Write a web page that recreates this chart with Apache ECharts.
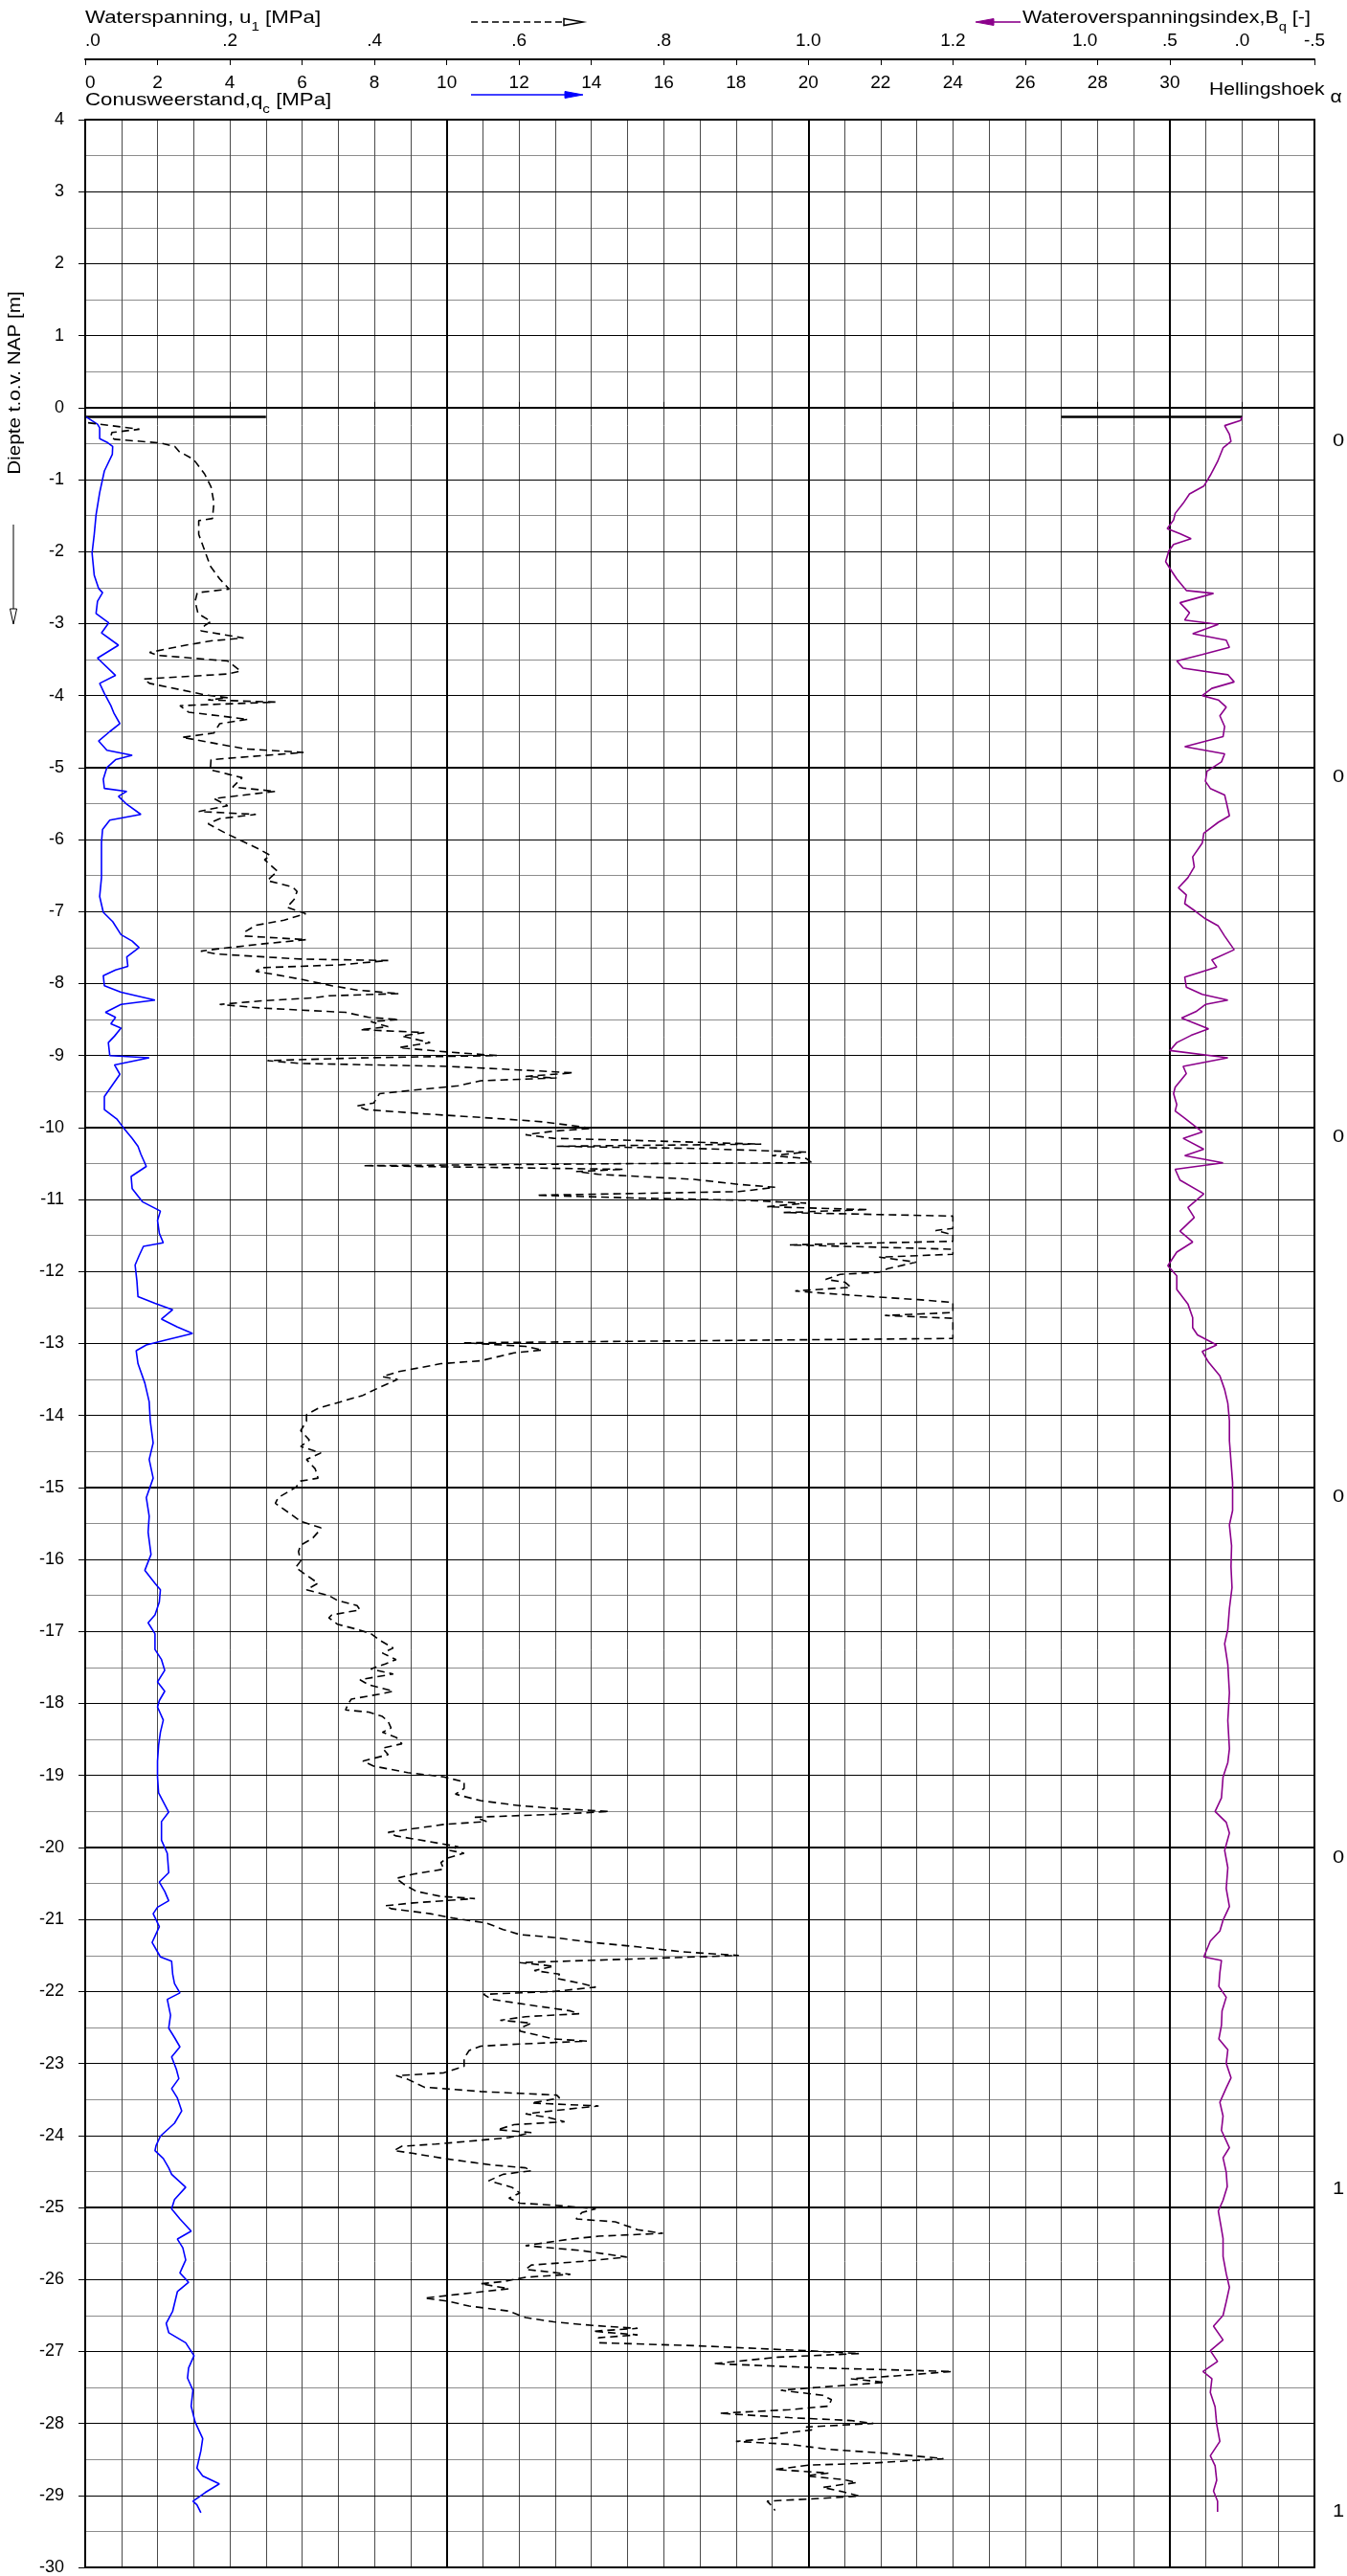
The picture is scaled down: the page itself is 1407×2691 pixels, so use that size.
<!DOCTYPE html>
<html><head><meta charset="utf-8">
<script src="https://cdn.jsdelivr.net/npm/echarts@6/dist/echarts.min.js"></script>
<style>html,body{margin:0;padding:0;background:#fff}#c{width:1407px;height:2691px}</style>
</head><body><div id="c"></div>
<script>
// ---- data: [depth (m NAP), value] ----
const qcProfile = [[-0.13,0.03],[-0.23,0.34],[-0.28,0.40],[-0.43,0.40],[-0.48,0.60],[-0.54,0.76],[-0.65,0.75],[-0.88,0.53],[-1.18,0.40],[-1.49,0.30],[-1.76,0.25],[-2.02,0.19],[-2.33,0.25],[-2.51,0.37],[-2.57,0.48],[-2.69,0.34],[-2.86,0.30],[-2.99,0.65],[-3.13,0.45],[-3.30,0.92],[-3.48,0.34],[-3.72,0.84],[-3.83,0.40],[-3.97,0.53],[-4.14,0.71],[-4.25,0.80],[-4.39,0.96],[-4.50,0.68],[-4.63,0.37],[-4.76,0.60],[-4.83,1.30],[-4.89,0.84],[-5.00,0.60],[-5.16,0.50],[-5.29,0.53],[-5.33,1.15],[-5.40,0.92],[-5.51,1.15],[-5.65,1.54],[-5.73,0.68],[-5.86,0.48],[-6.04,0.45],[-6.26,0.45],[-6.53,0.45],[-6.79,0.40],[-7.01,0.50],[-7.14,0.76],[-7.32,0.99],[-7.41,1.30],[-7.50,1.49],[-7.63,1.15],[-7.76,1.18],[-7.81,0.84],[-7.89,0.50],[-8.03,0.53],[-8.12,0.99],[-8.23,1.93],[-8.29,0.99],[-8.40,0.56],[-8.47,0.84],[-8.56,0.71],[-8.62,0.99],[-8.73,0.81],[-8.82,0.64],[-9.00,0.68],[-9.03,1.77],[-9.13,0.81],[-9.26,0.96],[-9.44,0.71],[-9.57,0.53],[-9.75,0.53],[-9.88,0.87],[-10.01,1.07],[-10.15,1.30],[-10.26,1.46],[-10.37,1.54],[-10.54,1.69],[-10.68,1.27],[-10.85,1.30],[-11.03,1.58],[-11.16,2.08],[-11.29,2.00],[-11.47,2.05],[-11.60,2.16],[-11.65,1.61],[-11.78,1.49],[-11.91,1.38],[-12.13,1.43],[-12.35,1.46],[-12.44,1.93],[-12.53,2.42],[-12.66,2.11],[-12.77,2.55],[-12.86,2.97],[-12.95,2.24],[-13.02,1.69],[-13.10,1.41],[-13.28,1.46],[-13.55,1.65],[-13.81,1.77],[-14.08,1.80],[-14.38,1.88],[-14.61,1.77],[-14.87,1.88],[-15.14,1.69],[-15.40,1.77],[-15.62,1.74],[-15.93,1.82],[-16.15,1.65],[-16.33,1.93],[-16.42,2.08],[-16.59,2.05],[-16.77,1.93],[-16.88,1.74],[-17.03,1.93],[-17.25,1.93],[-17.39,2.11],[-17.54,2.20],[-17.70,2.00],[-17.83,2.20],[-17.96,2.05],[-18.05,2.00],[-18.23,2.16],[-18.40,2.08],[-18.58,2.03],[-18.80,2.00],[-19.02,2.00],[-19.24,2.03],[-19.51,2.31],[-19.64,2.11],[-19.90,2.11],[-20.08,2.27],[-20.35,2.31],[-20.48,2.05],[-20.61,2.20],[-20.74,2.31],[-20.83,2.00],[-20.92,1.88],[-21.10,2.05],[-21.32,1.85],[-21.45,2.00],[-21.52,2.08],[-21.58,2.39],[-21.76,2.42],[-21.89,2.47],[-22.02,2.62],[-22.11,2.27],[-22.33,2.36],[-22.51,2.31],[-22.64,2.47],[-22.77,2.62],[-22.91,2.39],[-23.08,2.52],[-23.21,2.59],[-23.35,2.39],[-23.48,2.55],[-23.66,2.67],[-23.83,2.47],[-24.01,2.08],[-24.14,1.96],[-24.21,1.93],[-24.32,2.16],[-24.45,2.31],[-24.54,2.39],[-24.72,2.78],[-24.89,2.47],[-25.02,2.39],[-25.16,2.62],[-25.33,2.93],[-25.44,2.55],[-25.56,2.70],[-25.73,2.78],[-25.91,2.62],[-26.04,2.86],[-26.17,2.55],[-26.44,2.42],[-26.61,2.24],[-26.74,2.31],[-26.88,2.78],[-27.06,3.01],[-27.23,2.86],[-27.37,2.83],[-27.54,2.98],[-27.76,2.93],[-27.98,3.04],[-28.21,3.25],[-28.38,3.20],[-28.62,3.09],[-28.73,3.25],[-28.84,3.71],[-28.96,3.32],[-29.08,2.98],[-29.13,3.09],[-29.24,3.20]];

const uProfile = [[-0.21,0.004],[-0.30,0.075],[-0.345,0.037],[-0.41,0.035],[-0.44,0.041],[-0.49,0.103],[-0.54,0.124],[-0.61,0.13],[-0.72,0.150],[-0.92,0.165],[-1.10,0.174],[-1.32,0.178],[-1.54,0.176],[-1.57,0.157],[-1.76,0.157],[-1.98,0.165],[-2.20,0.173],[-2.38,0.186],[-2.52,0.199],[-2.57,0.155],[-2.69,0.152],[-2.86,0.156],[-2.97,0.174],[-3.03,0.165],[-3.10,0.160],[-3.20,0.219],[-3.24,0.174],[-3.30,0.139],[-3.40,0.089],[-3.44,0.100],[-3.52,0.197],[-3.66,0.215],[-3.70,0.197],[-3.77,0.081],[-3.83,0.089],[-3.99,0.166],[-4.03,0.197],[-4.06,0.170],[-4.09,0.263],[-4.14,0.131],[-4.23,0.143],[-4.33,0.225],[-4.39,0.186],[-4.52,0.178],[-4.58,0.134],[-4.74,0.221],[-4.79,0.302],[-4.89,0.174],[-5.03,0.173],[-5.09,0.197],[-5.14,0.217],[-5.27,0.204],[-5.33,0.263],[-5.43,0.178],[-5.53,0.197],[-5.61,0.157],[-5.65,0.236],[-5.71,0.186],[-5.78,0.170],[-5.91,0.194],[-6.04,0.221],[-6.13,0.240],[-6.22,0.256],[-6.28,0.248],[-6.44,0.266],[-6.53,0.256],[-6.57,0.252],[-6.66,0.287],[-6.72,0.293],[-6.83,0.289],[-6.94,0.279],[-7.03,0.305],[-7.12,0.275],[-7.19,0.236],[-7.28,0.221],[-7.34,0.221],[-7.39,0.306],[-7.45,0.244],[-7.52,0.182],[-7.55,0.160],[-7.59,0.182],[-7.66,0.298],[-7.68,0.419],[-7.74,0.353],[-7.78,0.244],[-7.83,0.236],[-7.87,0.260],[-7.94,0.298],[-8.03,0.341],[-8.09,0.376],[-8.14,0.434],[-8.17,0.337],[-8.20,0.314],[-8.24,0.244],[-8.29,0.186],[-8.34,0.244],[-8.40,0.360],[-8.47,0.392],[-8.50,0.434],[-8.53,0.395],[-8.60,0.419],[-8.64,0.380],[-8.68,0.469],[-8.73,0.438],[-8.82,0.477],[-8.89,0.434],[-8.95,0.500],[-9.00,0.570],[-9.03,0.392],[-9.07,0.252],[-9.11,0.298],[-9.15,0.500],[-9.20,0.601],[-9.24,0.675],[-9.29,0.609],[-9.31,0.652],[-9.35,0.547],[-9.42,0.516],[-9.48,0.454],[-9.53,0.407],[-9.59,0.403],[-9.66,0.399],[-9.70,0.376],[-9.75,0.388],[-9.81,0.469],[-9.88,0.578],[-9.92,0.632],[-9.99,0.687],[-10.01,0.702],[-10.05,0.648],[-10.10,0.609],[-10.15,0.648],[-10.18,0.764],[-10.23,0.935],[-10.26,0.652],[-10.29,0.842],[-10.34,0.997],[-10.39,0.950],[-10.43,0.997],[-10.49,1.005],[-10.50,0.764],[-10.53,0.384],[-10.55,0.531],[-10.58,0.745],[-10.61,0.679],[-10.65,0.710],[-10.72,0.842],[-10.79,0.904],[-10.83,0.954],[-10.89,0.904],[-10.94,0.624],[-10.98,0.764],[-11.01,0.912],[-11.05,0.997],[-11.10,0.943],[-11.14,1.083],[-11.18,0.966],[-11.23,1.2],[-11.40,1.2],[-11.43,1.176],[-11.49,1.2],[-11.58,1.2],[-11.63,0.974],[-11.69,1.2],[-11.76,1.2],[-11.80,1.098],[-11.87,1.149],[-11.96,1.11],[-12.01,1.098],[-12.04,1.044],[-12.11,1.024],[-12.15,1.051],[-12.22,1.059],[-12.27,0.982],[-12.30,1.020],[-12.35,1.090],[-12.39,1.152],[-12.43,1.2],[-12.51,1.2],[-12.57,1.2],[-12.61,1.106],[-12.65,1.2],[-12.93,1.2],[-12.99,0.524],[-13.04,0.609],[-13.09,0.632],[-13.13,0.593],[-13.24,0.547],[-13.28,0.492],[-13.39,0.434],[-13.46,0.411],[-13.50,0.432],[-13.61,0.407],[-13.72,0.384],[-13.81,0.353],[-13.90,0.322],[-13.99,0.306],[-14.08,0.306],[-14.21,0.298],[-14.34,0.310],[-14.43,0.298],[-14.52,0.326],[-14.61,0.306],[-14.74,0.318],[-14.87,0.322],[-14.91,0.298],[-15.00,0.291],[-15.14,0.267],[-15.22,0.263],[-15.36,0.283],[-15.47,0.298],[-15.56,0.326],[-15.62,0.322],[-15.71,0.314],[-15.80,0.298],[-15.89,0.295],[-16.02,0.298],[-16.11,0.291],[-16.19,0.302],[-16.33,0.322],[-16.42,0.306],[-16.50,0.337],[-16.57,0.349],[-16.64,0.376],[-16.70,0.380],[-16.77,0.341],[-16.81,0.337],[-16.90,0.349],[-16.97,0.376],[-17.03,0.395],[-17.12,0.407],[-17.23,0.426],[-17.30,0.411],[-17.39,0.430],[-17.45,0.415],[-17.52,0.395],[-17.59,0.426],[-17.67,0.380],[-17.74,0.392],[-17.83,0.426],[-17.87,0.407],[-17.94,0.368],[-18.00,0.364],[-18.09,0.360],[-18.12,0.392],[-18.18,0.411],[-18.25,0.419],[-18.34,0.423],[-18.40,0.411],[-18.47,0.430],[-18.56,0.438],[-18.62,0.411],[-18.71,0.419],[-18.80,0.384],[-18.87,0.399],[-18.96,0.446],[-19.02,0.496],[-19.09,0.524],[-19.18,0.524],[-19.26,0.512],[-19.35,0.547],[-19.42,0.601],[-19.46,0.652],[-19.50,0.725],[-19.54,0.648],[-19.58,0.539],[-19.64,0.555],[-19.68,0.496],[-19.75,0.446],[-19.79,0.419],[-19.84,0.430],[-19.92,0.477],[-19.99,0.516],[-20.04,0.504],[-20.08,0.524],[-20.15,0.500],[-20.21,0.492],[-20.30,0.496],[-20.37,0.454],[-20.43,0.430],[-20.52,0.442],[-20.61,0.458],[-20.68,0.492],[-20.71,0.539],[-20.77,0.454],[-20.81,0.415],[-20.85,0.423],[-20.92,0.477],[-20.98,0.508],[-21.05,0.555],[-21.14,0.578],[-21.21,0.601],[-21.25,0.648],[-21.32,0.702],[-21.38,0.764],[-21.45,0.826],[-21.50,0.904],[-21.56,0.725],[-21.60,0.601],[-21.65,0.648],[-21.71,0.621],[-21.76,0.656],[-21.82,0.652],[-21.89,0.687],[-21.94,0.706],[-22.00,0.648],[-22.04,0.551],[-22.11,0.562],[-22.18,0.609],[-22.27,0.671],[-22.31,0.683],[-22.35,0.609],[-22.40,0.574],[-22.44,0.617],[-22.51,0.601],[-22.55,0.601],[-22.66,0.648],[-22.69,0.694],[-22.73,0.601],[-22.76,0.547],[-22.82,0.531],[-22.93,0.524],[-23.04,0.524],[-23.13,0.496],[-23.17,0.430],[-23.22,0.446],[-23.33,0.469],[-23.39,0.547],[-23.44,0.652],[-23.48,0.656],[-23.55,0.617],[-23.59,0.710],[-23.64,0.663],[-23.70,0.609],[-23.75,0.640],[-23.81,0.663],[-23.85,0.593],[-23.92,0.570],[-23.96,0.617],[-24.03,0.586],[-24.07,0.543],[-24.12,0.485],[-24.15,0.438],[-24.21,0.427],[-24.25,0.454],[-24.32,0.496],[-24.41,0.562],[-24.45,0.609],[-24.49,0.617],[-24.54,0.578],[-24.63,0.558],[-24.72,0.590],[-24.80,0.601],[-24.87,0.586],[-24.94,0.601],[-24.98,0.663],[-25.02,0.706],[-25.07,0.687],[-25.16,0.679],[-25.20,0.733],[-25.27,0.753],[-25.31,0.764],[-25.36,0.799],[-25.40,0.710],[-25.44,0.671],[-25.53,0.609],[-25.60,0.687],[-25.69,0.749],[-25.75,0.687],[-25.80,0.617],[-25.86,0.609],[-25.93,0.671],[-25.97,0.609],[-26.03,0.578],[-26.06,0.547],[-26.13,0.586],[-26.19,0.531],[-26.26,0.469],[-26.30,0.500],[-26.37,0.531],[-26.44,0.586],[-26.53,0.609],[-26.59,0.648],[-26.64,0.702],[-26.68,0.764],[-26.72,0.702],[-26.77,0.764],[-26.81,0.710],[-26.88,0.710],[-26.92,0.842],[-26.99,0.997],[-27.03,1.071],[-27.08,0.958],[-27.17,0.869],[-27.23,1.020],[-27.28,1.199],[-27.34,1.121],[-27.38,1.059],[-27.43,1.106],[-27.50,1.013],[-27.54,0.962],[-27.61,1.020],[-27.67,1.032],[-27.76,1.028],[-27.81,0.974],[-27.86,0.877],[-27.92,0.974],[-27.96,1.059],[-28.00,1.090],[-28.05,0.997],[-28.09,1.005],[-28.14,0.962],[-28.20,0.958],[-28.25,0.900],[-28.29,0.974],[-28.36,1.028],[-28.42,1.114],[-28.49,1.187],[-28.55,1.090],[-28.58,1.001],[-28.64,0.954],[-28.69,1.028],[-28.73,0.997],[-28.78,1.048],[-28.82,1.067],[-28.89,1.020],[-28.95,1.048],[-29.01,1.071],[-29.04,1.020],[-29.08,0.943],[-29.15,0.950],[-29.21,0.954]];

const bqProfile = [[-0.13,0.00],[-0.18,0.011],[-0.25,0.121],[-0.37,0.088],[-0.47,0.077],[-0.56,0.132],[-0.75,0.170],[-0.94,0.220],[-1.09,0.265],[-1.20,0.364],[-1.33,0.408],[-1.47,0.463],[-1.56,0.474],[-1.68,0.518],[-1.75,0.430],[-1.82,0.353],[-1.90,0.474],[-1.99,0.507],[-2.14,0.529],[-2.28,0.485],[-2.38,0.452],[-2.54,0.386],[-2.58,0.198],[-2.71,0.430],[-2.85,0.364],[-2.95,0.397],[-3.01,0.165],[-3.14,0.342],[-3.23,0.110],[-3.33,0.088],[-3.43,0.276],[-3.52,0.452],[-3.62,0.408],[-3.71,0.099],[-3.81,0.055],[-3.90,0.210],[-4.00,0.276],[-4.06,0.165],[-4.16,0.110],[-4.28,0.154],[-4.43,0.121],[-4.57,0.132],[-4.71,0.397],[-4.81,0.121],[-4.92,0.143],[-5.05,0.243],[-5.19,0.254],[-5.29,0.220],[-5.38,0.121],[-5.57,0.099],[-5.67,0.088],[-5.76,0.165],[-5.91,0.265],[-6.05,0.276],[-6.24,0.342],[-6.38,0.331],[-6.53,0.375],[-6.67,0.441],[-6.77,0.386],[-6.89,0.397],[-7.00,0.320],[-7.10,0.254],[-7.20,0.165],[-7.34,0.121],[-7.53,0.055],[-7.67,0.210],[-7.77,0.176],[-7.91,0.397],[-8.05,0.386],[-8.15,0.276],[-8.23,0.099],[-8.29,0.254],[-8.39,0.320],[-8.48,0.419],[-8.63,0.232],[-8.72,0.353],[-8.82,0.452],[-8.93,0.500],[-9.03,0.099],[-9.15,0.408],[-9.25,0.386],[-9.44,0.463],[-9.53,0.474],[-9.68,0.452],[-9.77,0.463],[-9.87,0.397],[-10.06,0.276],[-10.15,0.408],[-10.30,0.265],[-10.39,0.397],[-10.49,0.132],[-10.58,0.463],[-10.73,0.430],[-10.92,0.265],[-11.11,0.375],[-11.25,0.331],[-11.44,0.430],[-11.59,0.342],[-11.73,0.452],[-11.92,0.514],[-12.06,0.452],[-12.25,0.452],[-12.45,0.375],[-12.64,0.342],[-12.78,0.342],[-12.88,0.309],[-13.02,0.176],[-13.11,0.276],[-13.26,0.232],[-13.45,0.154],[-13.64,0.121],[-13.83,0.099],[-14.07,0.088],[-14.35,0.088],[-14.64,0.077],[-14.93,0.066],[-15.03,0.066],[-15.32,0.066],[-15.52,0.088],[-15.81,0.073],[-16.10,0.077],[-16.39,0.070],[-16.68,0.088],[-16.97,0.099],[-17.17,0.121],[-17.46,0.099],[-17.85,0.088],[-18.24,0.099],[-18.63,0.088],[-18.82,0.099],[-19.02,0.132],[-19.31,0.143],[-19.50,0.187],[-19.65,0.110],[-19.80,0.088],[-20.04,0.121],[-20.28,0.099],[-20.57,0.110],[-20.82,0.088],[-21.01,0.132],[-21.16,0.154],[-21.30,0.220],[-21.52,0.265],[-21.57,0.143],[-21.74,0.154],[-21.93,0.161],[-22.08,0.110],[-22.27,0.139],[-22.47,0.143],[-22.66,0.161],[-22.81,0.099],[-23.00,0.110],[-23.20,0.077],[-23.34,0.110],[-23.54,0.154],[-23.73,0.132],[-23.93,0.143],[-24.17,0.088],[-24.31,0.132],[-24.51,0.110],[-24.71,0.103],[-24.90,0.132],[-25.05,0.165],[-25.24,0.148],[-25.43,0.132],[-25.68,0.132],[-25.92,0.110],[-26.11,0.088],[-26.31,0.110],[-26.50,0.132],[-26.65,0.198],[-26.84,0.132],[-26.99,0.220],[-27.14,0.170],[-27.28,0.271],[-27.38,0.209],[-27.57,0.220],[-27.77,0.187],[-28.01,0.176],[-28.25,0.154],[-28.45,0.220],[-28.59,0.187],[-28.79,0.176],[-28.94,0.198],[-29.08,0.170],[-29.23,0.170]];

// start level of the sounding
const startDepth = -0.13;
const qcStartLine = [0, 5];       // MPa
const bqStartLine = [1.25, 0];    // -
// inclination (Hellingshoek) readings
const inclDepth = [-0.47, -5.13, -10.13, -15.13, -20.14, -24.75, -29.22];
const inclValue = [0, 0, 0, 0, 0, 1, 1];
// tick labels
const qcTickLabels = [0,2,4,6,8,10,12,14,16,18,20,22,24,26,28,30];
const uTickLabels = [0,0.2,0.4,0.6,0.8,1.0,1.2];
const bqTickLabels = [1.0,0.5,0,-0.5];

const FONT = '"Liberation Sans", Arial, sans-serif';
const chart = echarts.init(document.getElementById('c'), null, {renderer:'canvas'});

function fmtU(v){ if (v === 0) return '.0'; if (v < 1) return '.' + Math.round(v*10); return v.toFixed(1); }
function fmtBq(v){ if (v === 1) return '1.0'; if (v === 0) return '.0'; if (v === 0.5) return '.5'; if (v === -0.5) return '-.5'; return ''; }

const hiddenAxis = {axisLine:{show:false}, axisTick:{show:false}, axisLabel:{show:false}};
const richHead = (fs, sub) => ({
  a:{fontSize:fs, fontFamily:FONT, fill:'#000', color:'#000', lineHeight:26, verticalAlign:'top'},
  s:{fontSize:sub, fontFamily:FONT, fill:'#000', color:'#000', lineHeight:26, verticalAlign:'bottom'}
});

const graphics = [
  {type:'text', x:89, y:9, scaleX:1.17, style:{text:'{a|Waterspanning, u}{s|1}{a| [MPa]}', rich:richHead(19,13)}},
  {type:'text', x:89, y:95, scaleX:1.17, style:{text:'{a|Conusweerstand,q}{s|c}{a| [MPa]}', rich:richHead(19,13)}},
  {type:'text', x:1068, y:9, scaleX:1.13, style:{text:'{a|Wateroverspanningsindex,B}{s|q}{a| [-]}', rich:richHead(19,13)}},
  {type:'text', x:1263, y:85, scaleX:1.17, style:{text:'{a|Hellingshoek }{s|α}', rich:richHead(18,18)}},
  // legend arrows
  {type:'line', shape:{x1:492, y1:23, x2:589, y2:23}, style:{stroke:'#000', lineWidth:1.6, lineDash:[7,4]}},
  {type:'polygon', shape:{points:[[589,19.5],[609,23],[589,26.5]]}, style:{fill:'#fff', stroke:'#000', lineWidth:1.5}},
  {type:'line', shape:{x1:492, y1:99, x2:592, y2:99}, style:{stroke:'#0000ff', lineWidth:1.6}},
  {type:'polygon', shape:{points:[[590,95.5],[609,99],[590,102.5]]}, style:{fill:'#0000ff', stroke:'#0000ff', lineWidth:1}},
  {type:'line', shape:{x1:1036, y1:23, x2:1066, y2:23}, style:{stroke:'#8b008b', lineWidth:1.6}},
  {type:'polygon', shape:{points:[[1038,19.5],[1019,23],[1038,26.5]]}, style:{fill:'#8b008b', stroke:'#8b008b', lineWidth:1}},
  // depth axis title + arrow
  {type:'text', x:16, y:400, rotation:Math.PI/2, scaleX:1.15, style:{text:'Diepte t.o.v. NAP [m]', fontSize:18, fontFamily:FONT, fill:'#000', align:'center', verticalAlign:'middle'}},
  {type:'line', shape:{x1:14, y1:548, x2:14, y2:650}, style:{stroke:'#000', lineWidth:1}},
  {type:'polygon', shape:{points:[[10.5,636],[14,652],[17.5,636]]}, style:{fill:'#fff', stroke:'#000', lineWidth:1}}
];

const option = {
  animation: false,
  backgroundColor: '#ffffff',
  grid: {left: 89, top: 125, width: 1284, height: 2567, show: true, borderColor: '#000', borderWidth: 2, backgroundColor: 'transparent'},
  xAxis: [
    { // qc
      type:'value', position:'top', offset:63, min:0, max:34, interval:2, z:3,
      axisLine:{show:true, onZero:false, lineStyle:{color:'#000', width:2}},
      axisTick:{show:true, inside:true, length:6, lineStyle:{color:'#000', width:1}},
      axisLabel:{show:true, inside:true, margin:15, customValues:qcTickLabels, fontSize:19, color:'#000', fontFamily:FONT, alignMinLabel:'left'},
      splitLine:{show:false}
    },
    { // u
      type:'value', position:'top', offset:63, min:0, max:1.7, z:3,
      axisLine:{show:false},
      axisTick:{show:true, inside:false, length:6, customValues:uTickLabels, lineStyle:{color:'#000', width:1}},
      axisLabel:{show:true, margin:10, customValues:uTickLabels, formatter:fmtU, fontSize:19, color:'#000', fontFamily:FONT, alignMinLabel:'left'},
      splitLine:{show:false}
    },
    { // Bq
      type:'value', position:'top', offset:63, min:-0.5, max:8, inverse:true, z:3,
      axisLine:{show:false},
      axisTick:{show:true, inside:false, length:6, customValues:bqTickLabels, lineStyle:{color:'#000', width:1}},
      axisLabel:{show:true, margin:10, customValues:bqTickLabels, formatter:fmtBq, fontSize:19, color:'#000', fontFamily:FONT, alignMinLabel:'right'},
      splitLine:{show:false}
    },
    Object.assign({type:'value', position:'bottom', min:0, max:34, interval:1, z:0,
      splitLine:{show:true, lineStyle:{color:'#4a4a4a', width:1}}}, hiddenAxis),
    Object.assign({type:'value', position:'bottom', min:0, max:34, interval:10, z:1,
      splitLine:{show:true, lineStyle:{color:'#000', width:2}}}, hiddenAxis)
  ],
  yAxis: [
    { // main depth axis
      type:'value', position:'left', min:-30, max:4, interval:1, z:1,
      axisLine:{show:true, onZero:false, lineStyle:{color:'#000', width:2}},
      axisTick:{show:true, length:7, lineStyle:{color:'#000', width:1}},
      axisLabel:{show:true, margin:22, fontSize:18, color:'#000', fontFamily:FONT},
      splitLine:{show:true, lineStyle:{color:'#000', width:1}}
    },
    Object.assign({type:'value', position:'right', min:-30, max:4, interval:0.5, z:0,
      splitLine:{show:true, lineStyle:{color:'#8c8c8c', width:1}}}, hiddenAxis),
    Object.assign({type:'value', position:'right', min:-30, max:4, interval:5, z:2,
      splitLine:{show:true, lineStyle:{color:'#000', width:2}}}, hiddenAxis)
  ],
  series: [
    {type:'line', name:'qc', xAxisIndex:0, yAxisIndex:0, showSymbol:false, symbol:'none', z:5,
      lineStyle:{color:'#0000ff', width:1.6}, data: qcProfile.map(p => [p[1], p[0]])},
    {type:'line', name:'u1', xAxisIndex:1, yAxisIndex:0, showSymbol:false, symbol:'none', z:5,
      lineStyle:{color:'#000', width:1.6, type:[8,5]}, data: uProfile.map(p => [p[1], p[0]])},
    {type:'line', name:'Bq', xAxisIndex:2, yAxisIndex:0, showSymbol:false, symbol:'none', z:5,
      lineStyle:{color:'#8b008b', width:1.6}, data: bqProfile.map(p => [p[1], p[0]])},
    {type:'line', xAxisIndex:0, yAxisIndex:0, showSymbol:false, symbol:'none', z:4,
      lineStyle:{color:'#000', width:2.5}, data: qcStartLine.map(v => [v, startDepth])},
    {type:'line', xAxisIndex:2, yAxisIndex:0, showSymbol:false, symbol:'none', z:4,
      lineStyle:{color:'#000', width:2.5}, data: bqStartLine.map(v => [v, startDepth])}
  ],
  graphic: graphics
};
chart.setOption(option);

// inclination readings, placed at their depth through the depth axis scale
const inclX = chart.convertToPixel({xAxisIndex:0}, 34) + 25;
const inclGraphics = inclDepth.map((d, i) => ({
  type:'text', x: inclX, y: chart.convertToPixel({yAxisIndex:0}, d), scaleX:1.15,
  style:{text:String(inclValue[i]), fontSize:19, fontFamily:FONT, fill:'#000', align:'center', verticalAlign:'middle'}
}));
chart.setOption({graphic: graphics.concat(inclGraphics)});
</script></body></html>
